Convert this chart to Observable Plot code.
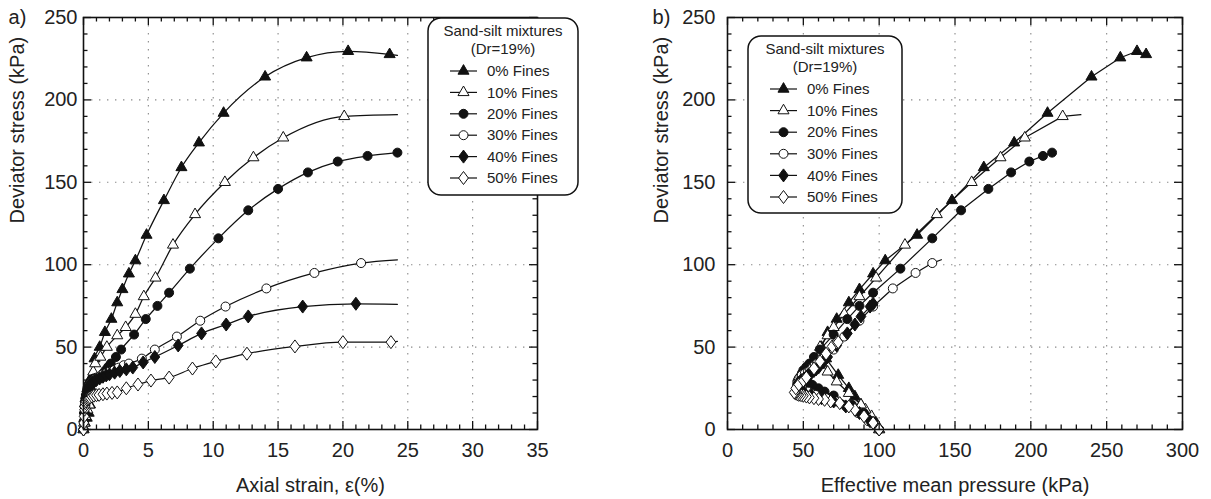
<!DOCTYPE html>
<html><head><meta charset="utf-8">
<script src="https://cdn.jsdelivr.net/npm/d3@7"></script>
<script src="https://cdn.jsdelivr.net/npm/@observablehq/plot@0.6"></script>
<style>
body{margin:0;background:#fff;}
#wrap{display:flex;width:1211px;height:499px;}
#wrap svg{overflow:visible;display:block}
</style></head><body><div id="wrap"><div id="pa"></div><div id="pb"></div></div>
<script>
// ---------- data ----------
const seriesNames = ["0% Fines","10% Fines","20% Fines","30% Fines","40% Fines","50% Fines"];
const seriesSymbols = ["triangle","triangle","circle","circle","diamond","diamond"];
const seriesFilled = [true,false,true,false,true,false];
const lineOnlyEnd = [true,true,false,true,true,true];
const legendTitle = ["Sand-silt mixtures","(Dr=19%)"];

const strain0 = [0,0.1,0.25,0.4,0.5,0.55,0.6,0.7,0.85,1.25,1.65,2.15,2.6,3.0,3.5,4.0,4.86,6.2,7.55,8.9,10.8,14.0,17.2,20.4,23.6,24.2];
const q0      = [0,4,7,10,15,20,25,33,43,50,59,67,77,85,94.5,102.5,118,139,159,174,192,214,225.6,229.5,227.6,227];
const p0      = [100,97,95,92,88,84,80,73,65,62,66,72,80,87,96,104,125,148,169,189,211,240,259,270,276,278];

const strain10 = [0,0.05,0.15,0.3,0.45,0.55,0.65,0.75,0.9,1.3,1.8,2.6,3.25,4.0,4.65,5.55,6.9,8.6,10.9,13.1,15.4,20.1,24.2];
const q10      = [0,4,8,12,15,22,29,35,40,44,50,57,62,70,80.7,92,112,130.5,150,165,177,190,191];
const p10      = [100,98,95,91,88,80,72,66,62,60,61,66,70,77,87,98,117,138,161,180,196,221,233];

const strain20 = [0,0.05,0.1,0.15,0.2,0.25,0.3,0.38,0.45,0.52,0.6,0.7,0.8,1.0,1.3,1.5,1.7,1.9,2.1,2.5,2.9,3.9,4.8,5.7,6.6,8.2,10.4,12.7,15.0,17.3,19.6,21.9,24.2];
const q20      = [0,5,10,15,20.6,23,25,27,28,29,30,30.5,31,31.5,32,34,36,38,40,44,48.5,57.6,67,75,83,97.6,116,133,146,156,162.6,166,168];
const p20      = [100,96,90,82,70,64,60,56,54,52,50,49,48,47.5,48,49,50,52,54,57,61,70,79,87,96,114,135,154,172,187,199,208,214];

const strain30 = [0,0.02,0.05,0.08,0.12,0.16,0.2,0.27,0.35,0.42,0.5,0.6,0.7,0.85,1.0,1.2,1.4,1.7,2.0,2.35,2.7,3.1,3.5,4.5,5.5,7.2,9.0,10.95,14.1,17.8,21.4,24.2];
const q30      = [0,5,10,14,17,19,21,23,25,26,27,28,29,30,31,32,33,34,35,36,37.5,39,40,43,48.5,56.4,66,74.6,85.6,95,101,103];
const p30      = [100,93,86,78,72,65,58,53,49,48,47,46.5,46,46.5,47,48,49,51,53,54.5,56,57.5,59,62,70,77,87,96,109,124,135,141];

const strain40 = [0,0.02,0.05,0.08,0.12,0.16,0.2,0.27,0.35,0.42,0.5,0.6,0.7,0.85,1.0,1.25,1.5,1.75,2.0,2.4,2.8,3.3,3.8,4.6,5.5,7.3,9.1,11.0,12.7,16.9,21.0,24.2];
const q40      = [0,5,10,14,17,19,21,23,25,26,27,27.8,28.5,29.3,30,31,32,32.8,33.5,34.5,35.5,36.5,37.6,40.7,44,51,58.3,63.7,68.6,74.6,76.3,76];
const p40      = [100,94,87,78,70,62,55,50,47,46.5,46,46.3,47,48,49,50.5,52,53,54,55.5,57,58.5,60,63,66,72,79,84,88,94,96,97];

const strain50 = [0,0.02,0.05,0.08,0.1,0.15,0.2,0.27,0.35,0.42,0.5,0.65,0.8,1.0,1.2,1.5,1.8,2.2,2.6,3.3,4.2,5.2,6.6,8.4,10.2,12.6,16.3,20.0,23.7,24.2];
const q50      = [0,4,8,12,14,16,17,18,18.5,19,19.5,20,20.5,20.8,21,21.4,21.8,22.2,22.5,25,27.3,29.7,31.5,37,41.3,46,50.4,53,53,53.5];
const p50      = [100,96,90,84,80,74,68,64,60,57,54,52,50,48.5,47,46,45,44.5,44,45,47,50,52,57,61,65,69,72,73,74];

const strainAll = [strain0,strain10,strain20,strain30,strain40,strain50];
const qAll = [q0,q10,q20,q30,q40,q50];
const pAll = [p0,p10,p20,p30,p40,p50];

const xTicksA = [0,5,10,15,20,25,30,35];
const xTicksB = [0,50,100,150,200,250,300];
const yTicks = [0,50,100,150,200,250];

// ---------- build rows ----------
const rows = [];
seriesNames.forEach((name, i) => {
  const n = strainAll[i].length;
  for (let k = 0; k < n; k++) {
    rows.push({series: name, si: i, strain: strainAll[i][k], q: qAll[i][k], p: pAll[i][k],
               marker: !(lineOnlyEnd[i] && k === n - 1)});
  }
});

const FONT = "'Liberation Sans', Arial, Helvetica, sans-serif";
const gridStyle = {stroke: "#8a8a8a", strokeWidth: 1.1, strokeDasharray: "1.4,6.6"};

// rhombus a bit wider than d3's diamond (width = 0.75 * height)
const fatDiamond = {
  draw(ctx, size) {
    const h = Math.sqrt(size / 0.375) / 2, w = h * 0.75;
    ctx.moveTo(0, -h); ctx.lineTo(w, 0); ctx.lineTo(0, h); ctx.lineTo(-w, 0); ctx.closePath();
  }
};
const symObj = {triangle: d3.symbolTriangle, circle: d3.symbolCircle, diamond: fatDiamond};
const symR = {triangle: 4.1, circle: 4.5, diamond: 4.5};

function frameTicks(xMajor, xMinor, yMajor, yMinor, fw, fh) {
  const M = 8, m = 4.5;
  const st = {stroke: "#111", strokeWidth: 1.3};
  return [
    Plot.ruleX(xMajor, {...st, insetTop: fh - M}),
    Plot.ruleX(xMajor, {...st, insetBottom: fh - M}),
    Plot.ruleX(xMinor, {...st, insetTop: fh - m}),
    Plot.ruleX(xMinor, {...st, insetBottom: fh - m}),
    Plot.ruleY(yMajor, {...st, insetRight: fw - M}),
    Plot.ruleY(yMajor, {...st, insetLeft: fw - M}),
    Plot.ruleY(yMinor, {...st, insetRight: fw - m}),
    Plot.ruleY(yMinor, {...st, insetLeft: fw - m})
  ];
}

function panel(opts) {
  const {xKey, xDomain, xMajor, xMinor, width, ml, mr, xTitle, yPad, tag, curve} = opts;
  const mt = 17, mb = 70, height = 499;
  const fw = width - ml - mr, fh = height - mt - mb;
  const marks = [
    Plot.ruleX(xMajor.slice(1, -1), gridStyle),
    Plot.ruleY(yTicks.slice(1, -1), gridStyle)
  ];
  seriesNames.forEach((name, i) => {
    const d = rows.filter(r => r.si === i);
    marks.push(Plot.line(d, {x: xKey, y: "q", curve, stroke: "#111", strokeWidth: 1.25}));
  });
  seriesNames.forEach((name, i) => {
    const d = rows.filter(r => r.si === i && r.marker);
    marks.push(Plot.dot(d, {x: xKey, y: "q", symbol: symObj[seriesSymbols[i]], r: symR[seriesSymbols[i]],
      fill: seriesFilled[i] ? "#111" : "white", stroke: "#111", strokeWidth: 1}));
  });
  marks.push(Plot.frame({stroke: "#111", strokeWidth: 1.6}));
  marks.push(...frameTicks(xMajor, xMinor, yTicks, d3.range(0, 251, 10).filter(v => v % 50), fw, fh));
  marks.push(Plot.axisX({ticks: xMajor, tickSize: 0, tickPadding: 13, label: null, fontSize: 20, fill: "#222"}));
  marks.push(Plot.axisY({ticks: yTicks, tickSize: 0, tickPadding: yPad, label: null, fontSize: 20, fill: "#222"}));
  marks.push(Plot.text([xTitle], {text: d => d, frameAnchor: "bottom", dy: 56, lineAnchor: "middle", fontSize: 20, fill: "#222"}));
  marks.push(Plot.text(["Deviator stress (kPa)"], {text: d => d, frameAnchor: "left", dx: -66, rotate: -90, lineAnchor: "middle", fontSize: 20, fill: "#222"}));
  marks.push(Plot.text([tag], {text: d => d, frameAnchor: "top-left", dx: -66, textAnchor: "middle", lineAnchor: "middle", fontSize: 20, fill: "#222"}));
  return Plot.plot({
    width, height, marginLeft: ml, marginRight: mr, marginTop: mt, marginBottom: mb,
    style: {fontFamily: FONT, fontSize: "20px", background: "white", overflow: "visible"},
    x: {domain: xDomain, label: null},
    y: {domain: [0, 250], label: null},
    marks
  });
}

function drawLegend(svg, x0, y0, w, h, rowY0, rowStep, lineX0) {
  const g = d3.select(svg).append("g").attr("font-family", FONT).attr("fill", "#222").attr("text-anchor", "start");
  g.append("rect").attr("x", x0).attr("y", y0).attr("width", w).attr("height", h)
    .attr("rx", 13).attr("fill", "white").attr("stroke", "#111").attr("stroke-width", 1.5);
  const cx = x0 + w / 2;
  legendTitle.forEach((t, i) => {
    g.append("text").attr("x", cx).attr("y", y0 + 13 + i * 17.5).attr("dy", "0.35em")
      .attr("text-anchor", "middle").attr("font-size", 15).text(t);
  });
  seriesNames.forEach((name, i) => {
    const y = rowY0 + i * rowStep;
    const s = seriesSymbols[i];
    g.append("line").attr("x1", lineX0).attr("x2", lineX0 + 27).attr("y1", y).attr("y2", y)
      .attr("stroke", "#111").attr("stroke-width", 1.2);
    g.append("path").attr("d", d3.symbol(symObj[s], Math.PI * symR[s] * symR[s])())
      .attr("transform", `translate(${lineX0 + 13.5},${y})`)
      .attr("fill", seriesFilled[i] ? "#111" : "white").attr("stroke", "#111").attr("stroke-width", 1);
    g.append("text").attr("x", lineX0 + 37).attr("y", y).attr("dy", "0.35em")
      .attr("text-anchor", "start").attr("font-size", 15).text(name);
  });
}

const svgA = panel({xKey: "strain", xDomain: [0, 35], xMajor: xTicksA, xMinor: d3.range(0, 36, 1).filter(v => v % 5),
  width: 600, ml: 83, mr: 63, xTitle: "Axial strain, ε(%)", yPad: 6, tag: "a)", curve: "monotone-x"});
drawLegend(svgA, 428, 18, 150, 177, 71, 21.4, 450);
document.getElementById("pa").appendChild(svgA);

const svgB = panel({xKey: "p", xDomain: [0, 300], xMajor: xTicksB, xMinor: d3.range(0, 301, 10).filter(v => v % 50),
  width: 611, ml: 127, mr: 29, xTitle: "Effective mean pressure (kPa)", yPad: 12, tag: "b)", curve: "linear"});
drawLegend(svgB, 148, 36, 154, 177, 89, 21.6, 170);
document.getElementById("pb").appendChild(svgB);
</script></body></html>
